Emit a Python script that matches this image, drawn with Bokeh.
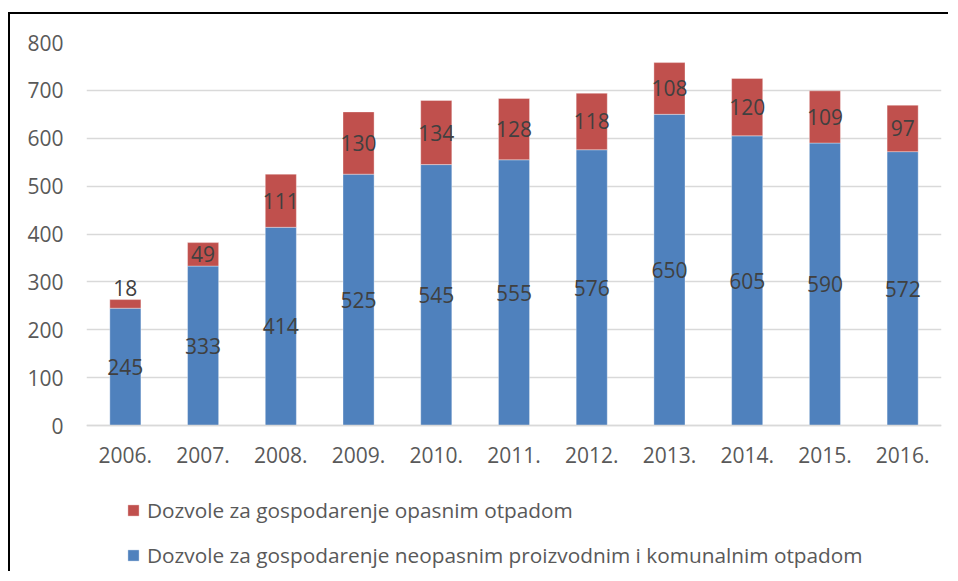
from bokeh.plotting import figure
from bokeh.models import ColumnDataSource, LabelSet, Legend, LegendItem, Range1d, CategoricalAxis
from bokeh.core.properties import value
from bokeh.embed import file_html
from bokeh.resources import INLINE

years = ["2006.", "2007.", "2008.", "2009.", "2010.", "2011.", "2012.", "2013.", "2014.", "2015.", "2016."]
neopasni = [245, 333, 414, 525, 545, 555, 576, 650, 605, 590, 572]
opasni = [18, 49, 111, 130, 134, 128, 118, 108, 120, 109, 97]
y_ticks = [0, 100, 200, 300, 400, 500, 600, 700, 800]
label_opasni = "Dozvole za gospodarenje opasnim otpadom"
label_neopasni = "Dozvole za gospodarenje neopasnim proizvodnim i komunalnim otpadom"

BLUE = "#4F81BD"
RED = "#C0504D"
FONT = "Open Sans"

blue_y = [a / 2 for a in neopasni]
red_y = [a + b / 2 if b >= 40 else a + b + 24 for a, b in zip(neopasni, opasni)]

src = ColumnDataSource(dict(
    years=years, neopasni=neopasni, opasni=opasni,
    blue_y=blue_y, red_y=red_y,
    blue_txt=[str(v) for v in neopasni], red_txt=[str(v) for v in opasni],
))

# layout geometry (pixels inside the canvas)
W, H = 940, 559
TOP, LEFT, RIGHT = 28, 76, 9
ZERO_PX = 411          # distance from canvas top to the value-0 line
frame_h = H - TOP
plot_h = ZERO_PX - TOP  # pixels spanning 0..800
y_max = y_ticks[-1]
y_min = -y_max * (frame_h - plot_h) / plot_h

p = figure(x_range=years, y_range=Range1d(y_min, y_max), width=W, height=H,
           output_backend="svg", toolbar_location=None, x_axis_location=None,
           min_border_left=LEFT, min_border_right=RIGHT, min_border_top=TOP, min_border_bottom=0)
p.styles = {"border-left": "2px solid black", "border-top": "2px solid black",
            "margin-top": "12px", "margin-left": "8px"}
p.outline_line_color = None
p.background_fill_color = "white"
p.border_fill_color = "white"

renderers = p.vbar_stack(["neopasni", "opasni"], x="years", width=0.4, source=src,
                         color=[BLUE, RED], line_color="white", line_alpha=0.35, line_width=1)

p.add_layout(LabelSet(x="years", y="blue_y", text="blue_txt", source=src,
                      text_align="center", text_baseline="middle",
                      text_font=value(FONT), text_font_size="21px", text_color="#404040"))
p.add_layout(LabelSet(x="years", y="red_y", text="red_txt", source=src,
                      text_align="center", text_baseline="middle",
                      text_font=value(FONT), text_font_size="21px", text_color="#404040"))

xaxis = CategoricalAxis(fixed_location=0)
p.add_layout(xaxis, "below")

p.yaxis.ticker = y_ticks
p.ygrid.ticker = y_ticks
p.ygrid.grid_line_color = "#D9D9D9"
p.ygrid.grid_line_width = 1.5
p.xgrid.grid_line_color = None

for ax in (xaxis, p.yaxis[0]):
    ax.major_tick_line_color = None
    ax.minor_tick_line_color = None
    ax.major_label_text_font = FONT
    ax.major_label_text_font_size = "21px"
    ax.major_label_text_color = "#595959"
p.yaxis.axis_line_color = None
p.yaxis.major_label_standoff = 17
xaxis.axis_line_color = "#D9D9D9"
xaxis.axis_line_width = 1.5
xaxis.major_label_standoff = 15

legend = Legend(items=[LegendItem(label=label_opasni, renderers=[renderers[1]]),
                       LegendItem(label=label_neopasni, renderers=[renderers[0]])],
                location=(40, 4), orientation="vertical",
                label_text_font=FONT, label_text_font_size="20.8px", label_text_color="#595959",
                glyph_width=14, glyph_height=14, label_height=20, label_standoff=7,
                spacing=17, padding=0, margin=0, border_line_color=None,
                background_fill_alpha=0)
p.add_layout(legend, "center")

open("out.html", "w").write(file_html(p, INLINE))
